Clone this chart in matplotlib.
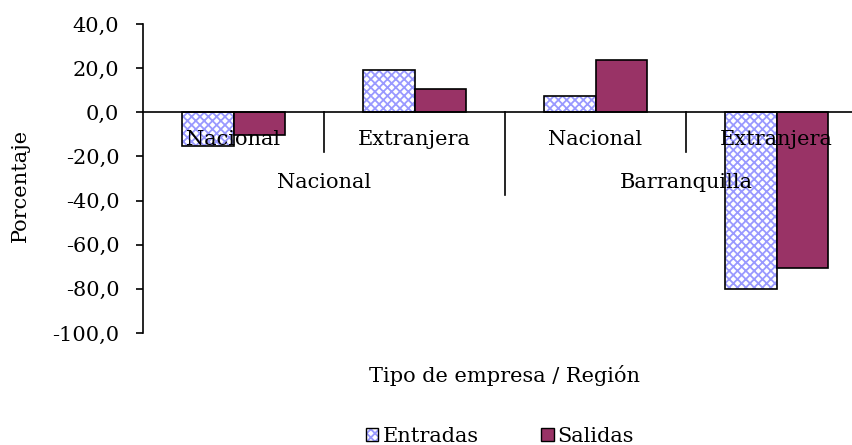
import matplotlib
matplotlib.use("Agg")
import matplotlib.pyplot as plt
import numpy as np
from matplotlib.patches import Patch
from matplotlib.ticker import FuncFormatter

plt.rcParams['font.family'] = ['DejaVu Serif']
plt.rcParams['hatch.linewidth'] = 1.3

tipos = ['Nacional', 'Extranjera', 'Nacional', 'Extranjera']
regiones = ['Nacional', 'Barranquilla']
entradas = [-15.5, 19.0, 7.5, -80.0]
salidas = [-10.5, 10.5, 23.5, -70.5]
series = ['Entradas', 'Salidas']
color_entr = '#9999ff'
color_sal = '#993366'
fs = 15

fig = plt.figure(figsize=(8.52, 4.45), dpi=100)
ax = fig.add_axes([143/852, 1-333/445, 724/852, 309/445])

x = np.arange(len(tipos))
w = 0.287
# entradas: patron de puntos azul sobre blanco
ax.bar(x - w/2, entradas, w, color='white', edgecolor=color_entr, hatch='xxxx', linewidth=0)
ax.bar(x - w/2, entradas, w, fill=False, edgecolor='black', linewidth=1.2)
ax.bar(x + w/2, salidas, w, color=color_sal, edgecolor='black', linewidth=1.2)

ax.set_xlim(-0.5, 3.5)
ax.set_ylim(-100, 40)
ax.set_yticks(np.arange(-100, 41, 20))
ax.yaxis.set_major_formatter(FuncFormatter(lambda v, p: f'{v:.1f}'.replace('.', ',')))
ax.tick_params(axis='y', labelsize=fs, length=5, width=1.2, pad=12)
ax.set_xticks([])

for s in ['top', 'right', 'bottom']:
    ax.spines[s].set_visible(False)
ax.spines['left'].set_linewidth(1.2)
ax.axhline(0, color='black', linewidth=1.2, clip_on=False)

# etiquetas de categorias multinivel
for i, t in enumerate(tipos):
    ax.text(i, -12.3, t, ha='center', va='center', fontsize=fs)
for j, r in enumerate(regiones):
    ax.text(2*j + 0.5, -32, r, ha='center', va='center', fontsize=fs)
for xd in [0.5, 2.5]:
    ax.plot([xd, xd], [0, -18.2], color='black', linewidth=1.2, clip_on=False)
ax.plot([1.5, 1.5], [0, -37.7], color='black', linewidth=1.2, clip_on=False)

fig.text(20/852, 1-185/445, 'Porcentaje', rotation=90, ha='center', va='center', fontsize=fs)
fig.text(505/852, 1-375/445, 'Tipo de empresa / Región', ha='center', va='center', fontsize=fs)

h0 = (Patch(facecolor='white', edgecolor=color_entr, hatch='xxxx', linewidth=0),
      Patch(fill=False, edgecolor='black', linewidth=1))
h1 = Patch(facecolor=color_sal, edgecolor='black', linewidth=1)
fig.legend([h0, h1], series, loc='center', bbox_to_anchor=(500/852, 9/445),
           ncol=2, frameon=False, fontsize=fs, handlelength=0.6, handleheight=0.6,
           handletextpad=0.2, columnspacing=3.0)

fig.savefig('out.png', dpi=100)
